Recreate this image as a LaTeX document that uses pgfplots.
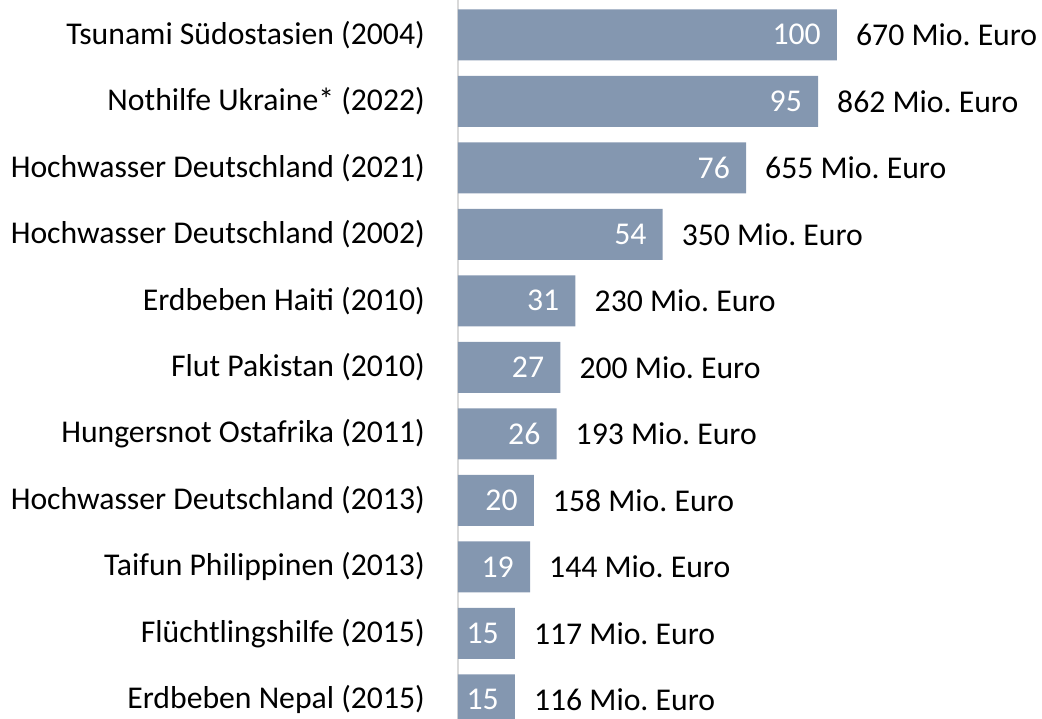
\documentclass[border=0pt]{standalone}
\usepackage{fontspec}
\setmainfont{Carlito}
\usepackage{pgfplots}
\usepackage{pgfplotstable}
\pgfplotsset{compat=1.18}
\frenchspacing
\definecolor{barcol}{HTML}{8497B0}
\definecolor{axcol}{HTML}{D9D9D9}
\pgfplotstableread[col sep=comma]{
idx,pct,euro,name
0,100,670 Mio.\ Euro,Tsunami Südostasien (2004)
1,95,862 Mio.\ Euro,Nothilfe Ukraine* (2022)
2,76,655 Mio.\ Euro,Hochwasser Deutschland (2021)
3,54,350 Mio.\ Euro,Hochwasser Deutschland (2002)
4,31,230 Mio.\ Euro,Erdbeben Haiti (2010)
5,27,200 Mio.\ Euro,Flut Pakistan (2010)
6,26,193 Mio.\ Euro,Hungersnot Ostafrika (2011)
7,20,158 Mio.\ Euro,Hochwasser Deutschland (2013)
8,19,144 Mio.\ Euro,Taifun Philippinen (2013)
9,15,117 Mio.\ Euro,Flüchtlingshilfe (2015)
10,15,116 Mio.\ Euro,Erdbeben Nepal (2015)
}\datatbl
\begin{document}
\fontsize{31.7pt}{38pt}\selectfont
\begin{tikzpicture}
\begin{axis}[
  at={(458pt,0pt)}, anchor=south west,
  scale only axis, width=584pt, height=719pt,
  xmin=0, xmax=154.1,
  ymin=-0.523, ymax=10.289,
  y dir=reverse,
  xbar, bar width=0.767, bar shift=0pt,
  axis y line*=left,
  hide x axis,
  y axis line style={draw=axcol, line width=1.5pt},
  ytick={0,...,10},
  yticklabels from table={\datatbl}{name},
  major tick length=0pt,
  ytick style={draw=none},
  yticklabel style={anchor=east, inner sep=0pt, xshift=-33pt, font=\fontsize{31.7pt}{38pt}\selectfont},
  /pgf/number format/assume math mode=true,
  every node near coord/.append style={font=\fontsize{31.7pt}{38pt}\selectfont, inner sep=0pt},
]
\addplot[fill=barcol, draw=none,
  nodes near coords,
  nodes near coords style={anchor=east, xshift=-16pt, text=white},
] table[x=pct, y=idx] {\datatbl};
\addplot[fill=none, draw=none,
  point meta=explicit symbolic,
  nodes near coords,
  nodes near coords style={anchor=west, xshift=19pt, text=black},
] table[x=pct, y=idx, meta=euro] {\datatbl};
\end{axis}
\pgfresetboundingbox
\path (0pt,0pt) rectangle (1042pt,719pt);
\end{tikzpicture}
\end{document}
